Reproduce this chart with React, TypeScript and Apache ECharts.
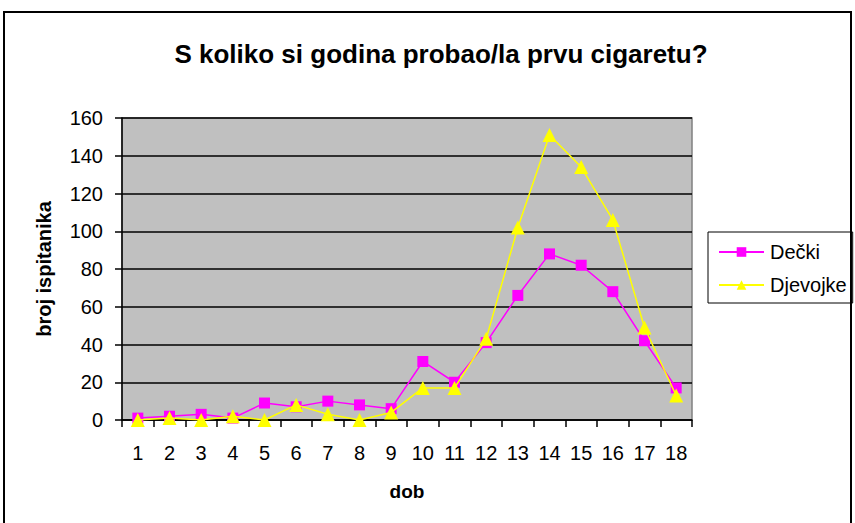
import React, { useEffect, useRef } from "react";
import * as echarts from "echarts";

const ages = ["1", "2", "3", "4", "5", "6", "7", "8", "9", "10", "11", "12", "13", "14", "15", "16", "17", "18"];
const decki = [1, 2, 3, 1, 9, 7, 10, 8, 6, 31, 20, 41, 66, 88, 82, 68, 42, 17];
const djevojke = [0, 1, 0, 2, 0, 8, 3, 0, 4, 17, 17, 43, 102, 151, 134, 106, 49, 13];

const FONT = "'Liberation Sans', Arial, sans-serif";

export default function App() {
  const ref = useRef<HTMLDivElement>(null);
  useEffect(() => {
    if (!ref.current) return;
    const chart = echarts.init(ref.current, null, { renderer: "svg" });
    chart.setOption({
      animation: false,
      backgroundColor: "#ffffff",
      textStyle: { fontFamily: FONT, color: "#000" },
      title: {
        text: "S koliko si godina probao/la prvu cigaretu?",
        left: 436,
        top: 36,
        textAlign: "center",
        textStyle: { fontFamily: FONT, fontSize: 26, fontWeight: "bold", color: "#000" },
      },
      graphic: [
        {
          type: "rect",
          shape: { x: 4, y: 12, width: 847, height: 520 },
          style: { fill: "none", stroke: "#000", lineWidth: 2 },
          silent: true,
          z: 100,
        },
      ],
      legend: {
        orient: "vertical",
        left: 708,
        top: 232,
        width: 146,
        height: 71,
        padding: [10, 6, 8, 10],
        itemGap: 13,
        itemWidth: 45,
        itemHeight: 12,
        borderColor: "#000",
        borderWidth: 1,
        backgroundColor: "#fff",
        textStyle: { fontFamily: FONT, fontSize: 20, color: "#000", padding: [0, 0, 0, 1] },
        data: ["Dečki", "Djevojke"],
      },
      grid: {
        left: 122,
        top: 118,
        width: 570,
        height: 302,
        show: true,
        backgroundColor: "#C0C0C0",
        borderColor: "#808080",
        borderWidth: 1.5,
      },
      xAxis: {
        type: "category",
        data: ages,
        boundaryGap: true,
        name: "dob",
        nameLocation: "middle",
        nameGap: 62,
        nameTextStyle: { fontFamily: FONT, fontSize: 19, fontWeight: "bold", color: "#000" },
        axisLine: { lineStyle: { color: "#000", width: 1.5 } },
        axisTick: { show: true, length: 7, lineStyle: { color: "#000", width: 1.5 }, alignWithLabel: false },
        axisLabel: { fontFamily: FONT, fontSize: 20, color: "#000", margin: 23, interval: 0 },
      },
      yAxis: {
        type: "value",
        min: 0,
        max: 160,
        interval: 20,
        name: "broj ispitanika",
        nameLocation: "middle",
        nameGap: 68,
        nameTextStyle: { fontFamily: FONT, fontSize: 20, fontWeight: "bold", color: "#000" },
        axisLine: { show: true, lineStyle: { color: "#000", width: 1.5 } },
        axisTick: { show: true, length: 7, lineStyle: { color: "#000", width: 1.5 } },
        axisLabel: { fontFamily: FONT, fontSize: 20, color: "#000", margin: 19 },
        splitLine: { show: true, lineStyle: { color: "#000", width: 1.5 } },
      },
      series: [
        {
          name: "Dečki",
          type: "line",
          data: decki,
          symbol: "rect",
          symbolSize: 11,
          itemStyle: { color: "#FF00FF" },
          lineStyle: { color: "#FF00FF", width: 1.5 },
          z: 3,
        },
        {
          name: "Djevojke",
          type: "line",
          data: djevojke,
          symbol: "triangle",
          symbolSize: 14,
          itemStyle: { color: "#FFFF00" },
          lineStyle: { color: "#FFFF00", width: 1.5 },
          z: 4,
        },
      ],
    });
    return () => chart.dispose();
  }, []);
  return (
    <div
      ref={ref}
      style={{ position: "fixed", left: 0, top: 0, width: 855, height: 523 }}
    />
  );
}
